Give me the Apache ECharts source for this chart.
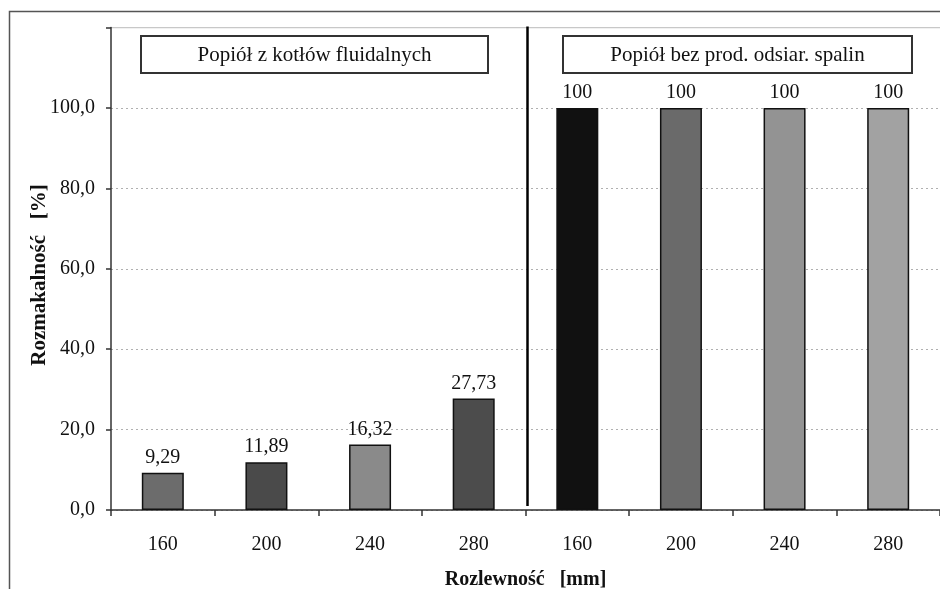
<!DOCTYPE html>
<html>
<head>
<meta charset="utf-8">
<script src="https://cdn.jsdelivr.net/npm/echarts@6/dist/echarts.min.js"></script>
<style>
html,body{margin:0;padding:0;background:#fff;}
#chart{width:940px;height:589px;}
</style>
</head>
<body>
<div id="chart"></div>
<script>
var categories = ['160', '200', '240', '280', '160', '200', '240', '280'];
var values = [9.29, 11.89, 16.32, 27.73, 100, 100, 100, 100];
var valueLabels = ['9,29', '11,89', '16,32', '27,73', '100', '100', '100', '100'];
var barColors = ['#6c6c6c', '#4a4a4a', '#8a8a8a', '#4c4c4c', '#111111', '#6a6a6a', '#939393', '#a2a2a2'];
var groupNames = ['Popiół z kotłów fluidalnych', 'Popiół bez prod. odsiar. spalin'];
var yTicks = [0, 20, 40, 60, 80, 100, 120];
var xAxisTitle = 'Rozlewność   [mm]';
var yAxisTitle = 'Rozmakalność   [%]';

var FONT = '"Liberation Serif", "Times New Roman", serif';
var chart = echarts.init(document.getElementById('chart'));

var option = {
  animation: false,
  backgroundColor: '#ffffff',
  grid: { left: 111, right: 0, top: 27.6, bottom: 79, containLabel: false, outerBoundsMode: 'none' },
  xAxis: {
    type: 'category',
    data: categories,
    name: xAxisTitle,
    nameLocation: 'middle',
    nameGap: 60,
    nameTextStyle: { fontFamily: FONT, fontSize: 20, fontWeight: 'bold', color: '#111' },
    axisLine: { lineStyle: { color: '#333', width: 1.5 } },
    axisTick: { show: true, length: 6, lineStyle: { color: '#333', width: 1.5 } },
    axisLabel: { fontFamily: FONT, fontSize: 20, color: '#111', margin: 25 },
    splitLine: { show: false }
  },
  yAxis: {
    type: 'value',
    min: 0,
    max: 120,
    interval: 20,
    axisLine: { show: true, lineStyle: { color: '#333', width: 1.5 } },
    axisTick: { show: true, length: 5, lineStyle: { color: '#333', width: 1.5 } },
    axisLabel: {
      fontFamily: FONT, fontSize: 20, color: '#111', margin: 16,
      formatter: function (v) { return yTicks.indexOf(v) >= 0 && v < 120 ? v.toFixed(1).replace('.', ',') : ''; }
    },
    splitLine: { show: true, lineStyle: { color: '#b0b0b0', type: [2, 3], width: 1.2 } }
  },
  series: [{
    type: 'bar',
    barWidth: 42,
    data: values.map(function (v, i) {
      return { value: v, itemStyle: { color: barColors[i], borderColor: '#111', borderWidth: 1.5 } };
    }),
    label: {
      show: true,
      position: 'top',
      distance: 5,
      fontFamily: FONT,
      fontSize: 20,
      color: '#111',
      formatter: function (p) { return valueLabels[p.dataIndex]; }
    }
  }]
};
chart.setOption(option);

var x3 = chart.convertToPixel({ xAxisIndex: 0 }, 3);
var x4 = chart.convertToPixel({ xAxisIndex: 0 }, 4);
var xDiv = (x3 + x4) / 2 + 2;
var yTop = chart.convertToPixel({ yAxisIndex: 0 }, 120);
var yBottom = chart.convertToPixel({ yAxisIndex: 0 }, 0);

chart.setOption({
  graphic: [
    { type: 'rect', shape: { x: 9.5, y: 11.5, width: 960, height: 620 }, style: { fill: 'none', stroke: '#555', lineWidth: 1.5 }, z: -1 },
    { type: 'line', shape: { x1: 111, y1: yTop, x2: 940, y2: yTop }, style: { stroke: '#c8c8c8', lineWidth: 1.2 } },
    { type: 'line', shape: { x1: xDiv, y1: yTop - 1, x2: xDiv, y2: yBottom - 4 }, style: { stroke: '#000', lineWidth: 2.5 }, z: 10 },
    { type: 'rect', shape: { x: 141, y: 36, width: 347, height: 37 }, style: { fill: '#fff', stroke: '#333', lineWidth: 2 }, z: 10 },
    { type: 'text', x: 314.5, y: 55, style: { text: groupNames[0], font: '21px ' + FONT, fill: '#111', align: 'center', verticalAlign: 'middle' }, z: 11 },
    { type: 'rect', shape: { x: 563, y: 36, width: 349, height: 37 }, style: { fill: '#fff', stroke: '#333', lineWidth: 2 }, z: 10 },
    { type: 'text', x: 737.5, y: 55, style: { text: groupNames[1], font: '21px ' + FONT, fill: '#111', align: 'center', verticalAlign: 'middle' }, z: 11 },
    { type: 'text', x: 40, y: 275, rotation: Math.PI / 2, style: { text: yAxisTitle, font: 'bold 21px ' + FONT, fill: '#111', align: 'center', verticalAlign: 'middle' }, z: 11 }
  ]
});
</script>
</body>
</html>
